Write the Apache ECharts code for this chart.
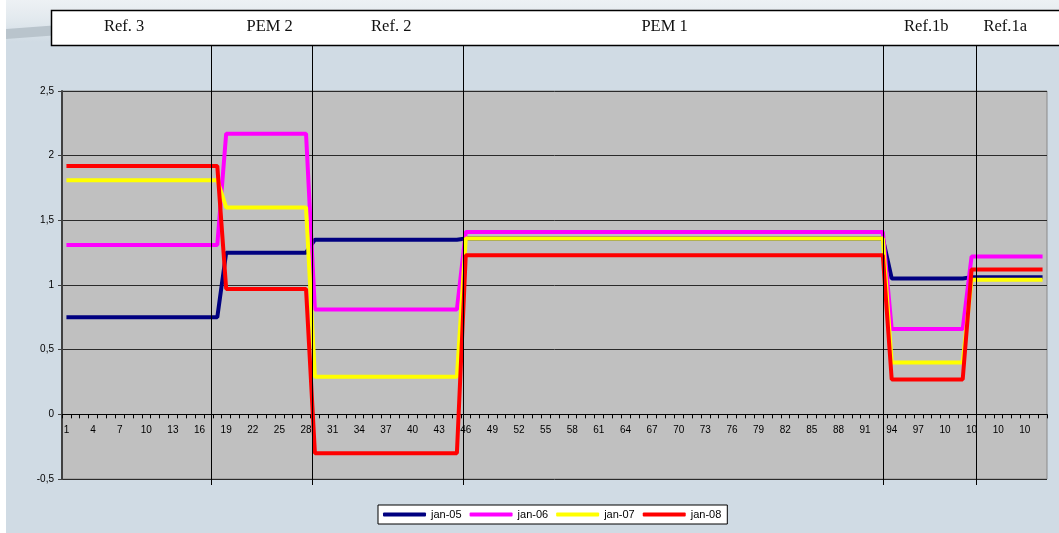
<!DOCTYPE html>
<html style="height: 100%">

<head>
  <meta charset="utf-8">
  <script type="text/javascript" src="https://cdn.jsdelivr.net/npm/echarts@6/dist/echarts.min.js"></script>
</head>

<body style="height: 100%; margin: 0; background: #fff">
  <div id="container" style="width: 1059px; height: 533px;
    background: linear-gradient(to right, #fff 0, #fff 6px, transparent 6px),
                linear-gradient(to bottom, #edf1f4 0px, #e2e9ee 20px, #d0dbe4 42px, #d0dbe4 100%);"></div>
  <script type="text/javascript">
    // categories 1..111 (the x axis is just a running index)
    var categories = [];
    for (var i = 1; i <= 111; i++) categories.push(String(i));

    var sectionNames = ['Ref. 3', 'PEM 2', 'Ref. 2', 'PEM 1', 'Ref.1b', 'Ref.1a'];
    var seriesNames = ['jan-05', 'jan-06', 'jan-07', 'jan-08'];

    // Ref.3: 1-18, PEM2: 19-28, Ref.2: 29-45, PEM1: 46-93, Ref.1b: 94-102, Ref.1a: 103-111
    var jan05 = [
      0.75, 0.75, 0.75, 0.75, 0.75, 0.75, 0.75, 0.75, 0.75, 0.75, 0.75, 0.75, 0.75, 0.75, 0.75, 0.75, 0.75, 0.75,
      1.25, 1.25, 1.25, 1.25, 1.25, 1.25, 1.25, 1.25, 1.25, 1.25,
      1.35, 1.35, 1.35, 1.35, 1.35, 1.35, 1.35, 1.35, 1.35, 1.35, 1.35, 1.35, 1.35, 1.35, 1.35, 1.35, 1.35,
      1.36, 1.36, 1.36, 1.36, 1.36, 1.36, 1.36, 1.36, 1.36, 1.36, 1.36, 1.36,
      1.36, 1.36, 1.36, 1.36, 1.36, 1.36, 1.36, 1.36, 1.36, 1.36, 1.36, 1.36,
      1.36, 1.36, 1.36, 1.36, 1.36, 1.36, 1.36, 1.36, 1.36, 1.36, 1.36, 1.36,
      1.36, 1.36, 1.36, 1.36, 1.36, 1.36, 1.36, 1.36, 1.36, 1.36, 1.36, 1.36,
      1.05, 1.05, 1.05, 1.05, 1.05, 1.05, 1.05, 1.05, 1.05,
      1.06, 1.06, 1.06, 1.06, 1.06, 1.06, 1.06, 1.06, 1.06
    ];
    var jan06 = [
      1.31, 1.31, 1.31, 1.31, 1.31, 1.31, 1.31, 1.31, 1.31, 1.31, 1.31, 1.31, 1.31, 1.31, 1.31, 1.31, 1.31, 1.31,
      2.17, 2.17, 2.17, 2.17, 2.17, 2.17, 2.17, 2.17, 2.17, 2.17,
      0.81, 0.81, 0.81, 0.81, 0.81, 0.81, 0.81, 0.81, 0.81, 0.81, 0.81, 0.81, 0.81, 0.81, 0.81, 0.81, 0.81,
      1.41, 1.41, 1.41, 1.41, 1.41, 1.41, 1.41, 1.41, 1.41, 1.41, 1.41, 1.41,
      1.41, 1.41, 1.41, 1.41, 1.41, 1.41, 1.41, 1.41, 1.41, 1.41, 1.41, 1.41,
      1.41, 1.41, 1.41, 1.41, 1.41, 1.41, 1.41, 1.41, 1.41, 1.41, 1.41, 1.41,
      1.41, 1.41, 1.41, 1.41, 1.41, 1.41, 1.41, 1.41, 1.41, 1.41, 1.41, 1.41,
      0.66, 0.66, 0.66, 0.66, 0.66, 0.66, 0.66, 0.66, 0.66,
      1.22, 1.22, 1.22, 1.22, 1.22, 1.22, 1.22, 1.22, 1.22
    ];
    var jan07 = [
      1.81, 1.81, 1.81, 1.81, 1.81, 1.81, 1.81, 1.81, 1.81, 1.81, 1.81, 1.81, 1.81, 1.81, 1.81, 1.81, 1.81, 1.81,
      1.60, 1.60, 1.60, 1.60, 1.60, 1.60, 1.60, 1.60, 1.60, 1.60,
      0.29, 0.29, 0.29, 0.29, 0.29, 0.29, 0.29, 0.29, 0.29, 0.29, 0.29, 0.29, 0.29, 0.29, 0.29, 0.29, 0.29,
      1.36, 1.36, 1.36, 1.36, 1.36, 1.36, 1.36, 1.36, 1.36, 1.36, 1.36, 1.36,
      1.36, 1.36, 1.36, 1.36, 1.36, 1.36, 1.36, 1.36, 1.36, 1.36, 1.36, 1.36,
      1.36, 1.36, 1.36, 1.36, 1.36, 1.36, 1.36, 1.36, 1.36, 1.36, 1.36, 1.36,
      1.36, 1.36, 1.36, 1.36, 1.36, 1.36, 1.36, 1.36, 1.36, 1.36, 1.36, 1.36,
      0.40, 0.40, 0.40, 0.40, 0.40, 0.40, 0.40, 0.40, 0.40,
      1.04, 1.04, 1.04, 1.04, 1.04, 1.04, 1.04, 1.04, 1.04
    ];
    var jan08 = [
      1.92, 1.92, 1.92, 1.92, 1.92, 1.92, 1.92, 1.92, 1.92, 1.92, 1.92, 1.92, 1.92, 1.92, 1.92, 1.92, 1.92, 1.92,
      0.97, 0.97, 0.97, 0.97, 0.97, 0.97, 0.97, 0.97, 0.97, 0.97,
      -0.30, -0.30, -0.30, -0.30, -0.30, -0.30, -0.30, -0.30, -0.30, -0.30, -0.30, -0.30, -0.30, -0.30, -0.30, -0.30, -0.30,
      1.23, 1.23, 1.23, 1.23, 1.23, 1.23, 1.23, 1.23, 1.23, 1.23, 1.23, 1.23,
      1.23, 1.23, 1.23, 1.23, 1.23, 1.23, 1.23, 1.23, 1.23, 1.23, 1.23, 1.23,
      1.23, 1.23, 1.23, 1.23, 1.23, 1.23, 1.23, 1.23, 1.23, 1.23, 1.23, 1.23,
      1.23, 1.23, 1.23, 1.23, 1.23, 1.23, 1.23, 1.23, 1.23, 1.23, 1.23, 1.23,
      0.27, 0.27, 0.27, 0.27, 0.27, 0.27, 0.27, 0.27, 0.27,
      1.12, 1.12, 1.12, 1.12, 1.12, 1.12, 1.12, 1.12, 1.12
    ];

    // layout: where separators and header labels sit, in category units
    var separatorAt = [17.3, 28.7, 45.7, 93.06, 103.5];
    var headerLabelAt = [7.5, 23.9, 37.6, 68.4, 97.9, 106.8];

    var colors = ['#000080', '#ff00ff', '#ffff00', '#ff0000'];
    var allData = [jan05, jan06, jan07, jan08];

    var dom = document.getElementById('container');
    var myChart = echarts.init(dom);

    var option = {
      backgroundColor: 'transparent',
      animation: false,
      grid: {
        left: 62,
        right: 12,
        top: 91,
        bottom: 54,
        show: true,
        backgroundColor: '#c0c0c0',
        borderColor: '#8a8a8a',
        borderWidth: 1
      },
      legend: {
        left: 378,
        top: 505,
        icon: 'roundRect',
        itemWidth: 43,
        itemHeight: 4,
        itemGap: 8,
        backgroundColor: '#fff',
        borderColor: '#000',
        borderWidth: 1,
        borderRadius: 0,
        padding: [4, 6, 4, 5],
        textStyle: {
          fontSize: 11,
          fontFamily: 'Liberation Sans, Arial',
          color: '#000'
        },
        data: seriesNames
      },
      xAxis: {
        type: 'category',
        data: categories,
        boundaryGap: true,
        axisLine: { onZero: false, lineStyle: { color: '#000', width: 1 } },
        axisTick: { show: true, interval: 0, length: 4, lineStyle: { color: '#000' } },
        axisLabel: {
          interval: 2,
          margin: 11,
          fontSize: 10,
          fontFamily: 'Liberation Sans, Arial',
          color: '#000',
          formatter: function (v) {
            // the original chart clips three-digit labels to two characters
            return v.slice(0, 2);
          }
        },
        splitLine: { show: false }
      },
      yAxis: {
        type: 'value',
        min: -0.5,
        max: 2.5,
        interval: 0.5,
        axisLine: { show: true, lineStyle: { color: '#404040', width: 2 } },
        axisTick: { show: true, length: 4, lineStyle: { color: '#404040' } },
        axisLabel: {
          margin: 8,
          fontSize: 10,
          fontFamily: 'Liberation Sans, Arial',
          color: '#000',
          formatter: function (v) {
            return String(v).replace('.', ',');
          }
        },
        splitLine: { show: true, lineStyle: { color: '#2a2a2a', width: 1 } }
      },
      series: seriesNames.map(function (name, k) {
        return {
          name: name,
          type: 'line',
          data: allData[k],
          symbol: 'none',
          showSymbol: false,
          itemStyle: { color: colors[k] },
          lineStyle: { color: colors[k], width: 4 },
          emphasis: { disabled: true }
        };
      })
    };
    myChart.setOption(option);

    // lift the category axis (line, ticks and labels) onto the zero line
    var zeroY = myChart.convertToPixel({ yAxisIndex: 0 }, 0);
    var bottomY = myChart.convertToPixel({ yAxisIndex: 0 }, option.yAxis.min);
    myChart.setOption({ xAxis: { offset: -(bottomY - zeroY) } });

    // header box, section labels and separator lines, placed via the x axis
    function catX(pos) {
      var a = myChart.convertToPixel({ xAxisIndex: 0 }, categories[0]);
      var b = myChart.convertToPixel({ xAxisIndex: 0 }, categories[1]);
      return a + (pos - 1) * (b - a);
    }

    var graphics = [];
    graphics.push({
      type: 'polygon',
      shape: { points: [[6, 29], [60, 25], [60, 35], [6, 39]] },
      style: { fill: '#b9c4cc' },
      z: 1
    });
    graphics.push({
      type: 'rect',
      shape: { x: 51.5, y: 10.5, width: 1020, height: 35 },
      style: { fill: '#fff', stroke: '#000', lineWidth: 1.5 },
      z: 2
    });
    sectionNames.forEach(function (name, k) {
      graphics.push({
        type: 'text',
        x: catX(headerLabelAt[k]),
        y: 27,
        style: {
          text: name,
          fill: '#111',
          font: '16.5px "Liberation Serif", "Times New Roman", serif',
          align: 'center',
          verticalAlign: 'middle'
        },
        z: 3
      });
    });
    separatorAt.forEach(function (pos) {
      var x = Math.round(catX(pos)) + 0.5;
      graphics.push({
        type: 'line',
        shape: { x1: x, y1: 46, x2: x, y2: 485 },
        style: { stroke: '#000', lineWidth: 1 },
        z: 10
      });
    });

    myChart.setOption({ graphic: graphics });
  </script>
</body>

</html>
